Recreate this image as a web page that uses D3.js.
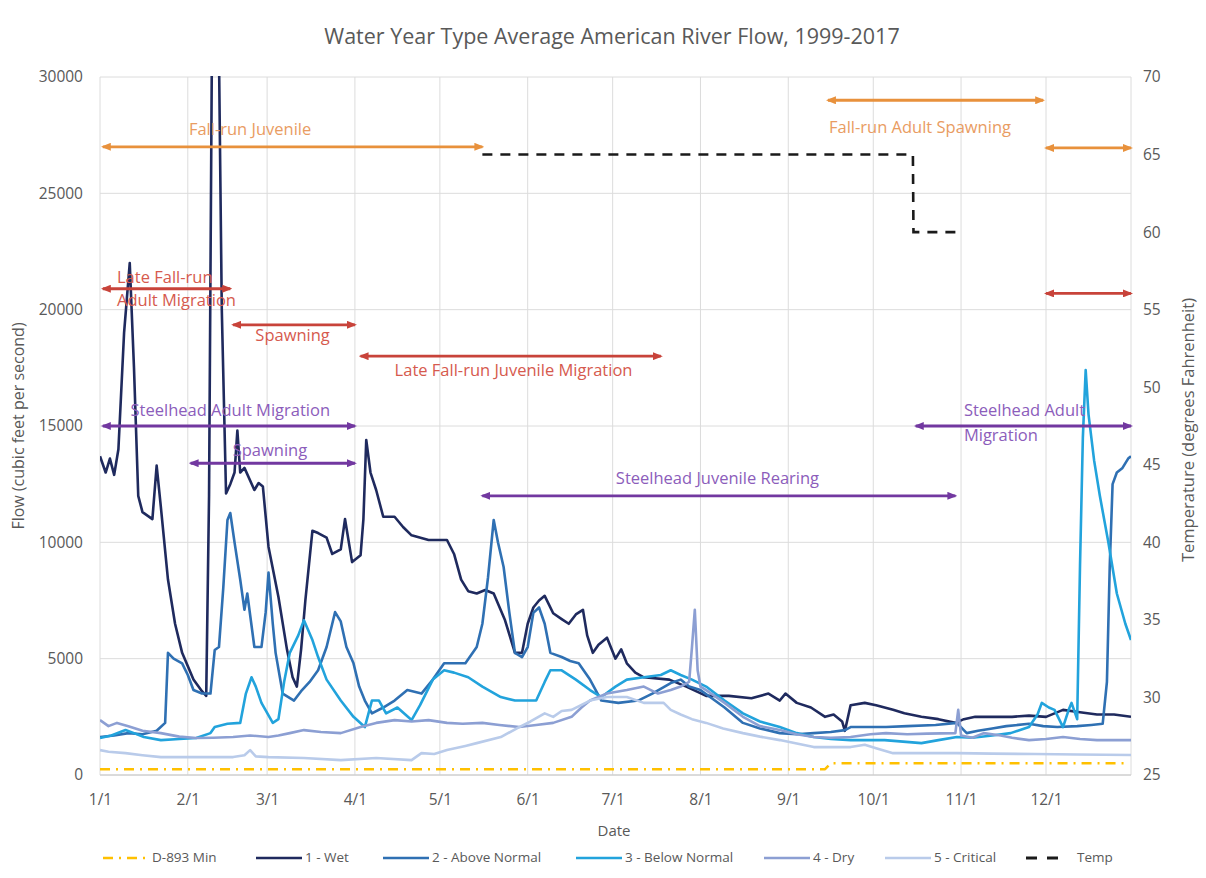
<!DOCTYPE html>
<html>
<head>
<meta charset="utf-8">
<script src="https://cdn.jsdelivr.net/npm/d3@7"></script>
<style>
    body { margin: 0; background: #fff; }
    svg text { font-family: "Open Sans", "Noto Sans", sans-serif; }
</style>
</head>
<body>
<div id="chart"></div>
<script>

// day of year (0 = Jan 1) paired with average flow, cfs
const minFlow = [[0, 250], [256, 250], [258, 500], [362, 500]];

const wetFlow = [[0,13700],[2,13000],[3.5,13600],[5,12900],[6.5,14000],[8.5,19000],[10.5,22000],[12,17500],[13.5,12000],[15,11300],[18.5,11000],[20,13300],[21.5,11500],[24,8400],[26.5,6500],[29,5250],[33,4100],[36,3600],[37.5,3400],[38.5,12000],[39.5,31000],[42,31000],[43,20000],[44.5,12100],[46,12500],[47.5,13000],[48.5,14800],[49.5,13000],[51,13200],[54.5,12250],[56,12550],[57.5,12400],[59.5,9800],[63,7650],[66,5400],[68,4200],[69.5,3800],[71,5400],[72.5,7500],[75,10500],[77,10400],[80,10200],[82,9500],[85,9700],[86.5,11000],[89,9150],[92,9450],[93,11000],[94,14400],[95.5,13000],[97.5,12250],[100,11100],[104,11100],[107,10660],[110,10300],[116,10100],[122.5,10100],[125,9500],[127.5,8400],[130,7900],[133,7800],[136,7950],[139,7800],[143,6650],[146.5,5250],[149,5250],[151,6500],[153,7200],[155,7500],[157,7700],[160,6950],[163,6700],[165.5,6500],[168,6900],[170.5,7100],[172,6000],[174,5250],[176,5600],[179,5900],[182,5000],[184,5400],[186,4800],[189,4400],[192,4200],[201,4100],[207,3800],[214,3400],[222,3400],[230,3300],[236,3500],[240,3200],[242,3500],[246,3100],[251,2900],[256,2500],[259,2600],[262,2300],[263,1900],[265,3000],[270,3100],[274,3000],[280,2800],[284,2650],[290,2500],[296,2400],[302,2240],[305,2400],[309,2500],[315,2500],[322,2500],[328,2550],[334,2500],[340,2800],[346,2700],[352,2600],[358,2600],[364,2500]];

const aboveNormalFlow = [[0,1630],[5,1700],[10,1800],[15,1750],[20,1900],[23,2240],[24,5250],[26,5000],[29,4800],[31,4300],[33,3650],[36,3500],[39,3500],[40.5,5370],[42,5500],[43.5,8000],[45,10960],[46,11260],[47.5,10000],[49.5,8400],[51,7100],[52,7800],[54.5,5500],[57,5500],[58.5,7000],[59.5,8700],[61,6500],[62,5250],[64.5,3500],[68.5,3200],[71,3600],[74,4000],[77,4500],[80,5500],[82,6500],[83,7000],[85,6600],[87,5500],[89.5,4800],[91.5,3800],[93.5,3200],[96,2650],[100,2900],[104,3200],[108.5,3650],[113.5,3500],[117.5,4100],[121.5,4800],[129,4800],[133,5500],[135,6500],[137,8500],[139,10960],[140.5,10000],[142.5,8940],[144.5,7000],[146.5,5250],[149,5070],[151,5500],[153,6970],[155,7200],[157,6500],[159,5250],[163,5070],[166,4900],[169,4800],[173,4100],[177,3200],[183,3100],[190,3200],[195,3500],[201.5,3950],[205,4100],[208,3800],[212,3650],[216,3300],[220.5,2900],[227,2240],[233,2000],[240,1800],[246,1750],[252,1800],[258,1850],[263,1930],[265,2060],[272,2060],[277.5,2060],[285,2100],[295,2150],[302.5,2240],[306,1800],[310,1900],[315,2000],[320,2100],[328,2200],[333,2100],[338,2060],[345,2100],[350,2150],[354,2200],[355.5,4000],[356.5,9000],[357.5,12500],[359,13000],[361,13200],[363,13600],[364,13700]];

const belowNormalFlow = [[0,1590],[4,1700],[9,1935],[12,1800],[15.5,1630],[21.5,1500],[28,1550],[34,1590],[39,1800],[40.5,2060],[45,2200],[49.5,2240],[51.5,3500],[53.5,4200],[55,3800],[57,3100],[61,2240],[63,2400],[65,4000],[67,5250],[70,6000],[72,6650],[75,5800],[77,5070],[80,4100],[85,3200],[89.5,2500],[93.5,2060],[96,3200],[98.5,3200],[101,2650],[105,2900],[110,2360],[113,3000],[117.5,4100],[121.5,4500],[125,4400],[130,4200],[135,3800],[141.5,3350],[146.5,3200],[154,3200],[157,4000],[159,4500],[163,4500],[168,4100],[173,3650],[177,3350],[182,3800],[186,4100],[192,4200],[198,4300],[201.5,4500],[205,4300],[209,4100],[214,3800],[220.5,3200],[227,2650],[233,2300],[240,2060],[246,1800],[252,1630],[258,1550],[265,1500],[277,1500],[290,1370],[296,1500],[302.5,1630],[308,1600],[315,1700],[321.5,1800],[328,2060],[331,2600],[332.5,3100],[335,2900],[337,2800],[340,2060],[342,2800],[343,3100],[345,2400],[346,9000],[347,14500],[348,17400],[349,15500],[351,13500],[353,12000],[356,10000],[359,7800],[362,6500],[364,5800]];

const dryFlow = [[0,2360],[3,2100],[6,2240],[10,2100],[15,1900],[21.5,1800],[28,1650],[34,1590],[40,1600],[47,1630],[53,1700],[59.5,1630],[63,1700],[67,1800],[72,1930],[78,1850],[85,1800],[92,2060],[97.5,2240],[104,2360],[110,2300],[116,2360],[122.5,2240],[128,2200],[135,2240],[141,2150],[148,2060],[154,2150],[160,2240],[166.5,2500],[170,2900],[173,3200],[179,3500],[186,3650],[192,3800],[197,3500],[201.5,3650],[205,3800],[208,4000],[209,5500],[210,7100],[211,4500],[212,3800],[214,3650],[220.5,3100],[227,2500],[233,2100],[240,1930],[246,1750],[252,1630],[258,1600],[265,1630],[272,1750],[277.5,1800],[285,1750],[292,1780],[302,1800],[303,2800],[304,1700],[308,1600],[312,1800],[318,1700],[322,1600],[328,1500],[334,1550],[340,1630],[346,1550],[352,1500],[358,1500],[364,1500]];

const criticalFlow = [[0,1070],[3,1000],[9,940],[15,850],[21.5,770],[34,770],[47,770],[51,850],[53,1070],[55,800],[59.5,770],[72,730],[85,640],[97.5,730],[110,640],[113.5,940],[118,900],[122.5,1070],[129,1250],[133,1370],[141.5,1630],[148,2060],[152,2300],[157,2650],[160,2500],[163,2750],[166.5,2800],[173,3200],[179,3350],[186,3350],[192,3100],[199,3100],[201.5,2800],[205,2600],[209,2400],[214,2240],[220,2000],[227,1800],[233,1650],[240,1500],[246,1350],[252,1200],[258,1200],[265,1200],[270,1300],[274,1150],[280,940],[290,940],[302.5,940],[315,920],[330,900],[345,880],[364,860]];

// temperature target, degrees F
const tempTarget = [[135, 65], [287, 65], [287.2, 60], [303, 60]];

const flowTicks = [0, 5000, 10000, 15000, 20000, 25000, 30000];
const tempTicks = [25, 30, 35, 40, 45, 50, 55, 60, 65, 70];
const dateTickLabels = ['1/1', '2/1', '3/1', '4/1', '5/1', '6/1', '7/1', '8/1', '9/1', '10/1', '11/1', '12/1'];

const seriesNames = ['D-893 Min', '1 - Wet', '2 - Above Normal', '3 - Below Normal', '4 - Dry', '5 - Critical', 'Temp'];

// life stage periods: run, first day, last day, flow level
const phaseArrows = [
    ['fall', 1, 135, 27000],
    ['fall', 257, 333, 29000],
    ['fall', 334, 364, 26950],
    ['late', 1, 46, 20900],
    ['late', 47, 90, 19350],
    ['late', 92, 198, 18000],
    ['late', 334, 364, 20700],
    ['steel', 1, 90, 15000],
    ['steel', 32, 90, 13400],
    ['steel', 135, 302, 12000],
    ['steel', 288, 364, 15000]
];

// run, text, day, flow, anchor
const phaseLabels = [
    ['fall', 'Fall-run Juvenile', 53, 27700, 'middle'],
    ['fall', 'Fall-run Adult Spawning', 289.5, 27800, 'middle'],
    ['late', 'Late Fall-run', 6, 21350, 'start'],
    ['late', 'Adult Migration', 6, 20350, 'start'],
    ['late', 'Spawning', 68, 18830, 'middle'],
    ['late', 'Late Fall-run Juvenile Migration', 146, 17320, 'middle'],
    ['steel', 'Steelhead Adult Migration', 46, 15600, 'middle'],
    ['steel', 'Spawning', 60, 13880, 'middle'],
    ['steel', 'Steelhead Juvenile Rearing', 218, 12680, 'middle'],
    ['steel', 'Steelhead Adult', 305, 15600, 'start'],
    ['steel', 'Migration', 305, 14530, 'start']
];


class RiverFlowChart {

    constructor(parentElement) {
        this.parentElement = parentElement;
        this.initVis();
    }

    initVis() {
        let vis = this;

        vis.width = 1206;
        vis.height = 878;
        vis.plot = {left: 100, right: 1131, top: 77, bottom: 775};

        vis.svg = d3.select('#' + vis.parentElement).append('svg')
            .attr('width', vis.width)
            .attr('height', vis.height);

        vis.yearStart = Date.UTC(2017, 0, 1);

        vis.x = d3.scaleUtc()
            .domain([vis.dayToDate(0), vis.dayToDate(364)])
            .range([vis.plot.left, vis.plot.right]);

        vis.yFlow = d3.scaleLinear()
            .domain([0, 30000])
            .range([vis.plot.bottom, vis.plot.top]);

        vis.yTemp = d3.scaleLinear()
            .domain([25, 70])
            .range([vis.plot.bottom, vis.plot.top]);

        vis.colors = {
            'D-893 Min': '#ffc000',
            '1 - Wet': '#1f2a5e',
            '2 - Above Normal': '#2f70b3',
            '3 - Below Normal': '#22a3dc',
            '4 - Dry': '#8c9fd3',
            '5 - Critical': '#b9cbea',
            'Temp': '#1a1a1a'
        };
        vis.runColors = {fall: '#e8913c', late: '#c8433a', steel: '#7238a0'};
        vis.runTextColors = {fall: '#e99c62', late: '#d65a4e', steel: '#8c5dbb'};

        vis.svg.append('defs').append('clipPath')
            .attr('id', 'plot-clip')
            .append('rect')
            .attr('x', vis.plot.left)
            .attr('y', vis.plot.top - 1)
            .attr('width', vis.plot.right - vis.plot.left)
            .attr('height', vis.plot.bottom - vis.plot.top + 1);

        // arrow heads, one per colour
        Object.keys(vis.runColors).forEach(run => {
            vis.svg.select('defs').append('marker')
                .attr('id', 'head-' + run)
                .attr('viewBox', '0 0 10 8')
                .attr('refX', 8)
                .attr('refY', 4)
                .attr('markerWidth', 10)
                .attr('markerHeight', 8)
                .attr('markerUnits', 'userSpaceOnUse')
                .attr('orient', 'auto-start-reverse')
                .append('path')
                .attr('d', 'M0,0 L10,4 L0,8 Z')
                .attr('fill', vis.runColors[run]);
        });

        vis.svg.append('text')
            .attr('x', 612)
            .attr('y', 38)
            .attr('text-anchor', 'middle')
            .attr('dominant-baseline', 'middle')
            .attr('font-size', 21.5)
            .attr('fill', '#595959')
            .text('Water Year Type Average American River Flow, 1999-2017');

        vis.svg.append('text')
            .attr('transform', 'translate(20,426) rotate(-90)')
            .attr('text-anchor', 'middle')
            .attr('dominant-baseline', 'middle')
            .attr('font-size', 16)
            .attr('fill', '#595959')
            .text('Flow (cubic feet per second)');

        vis.svg.append('text')
            .attr('transform', 'translate(1190,430) rotate(-90)')
            .attr('text-anchor', 'middle')
            .attr('dominant-baseline', 'middle')
            .attr('font-size', 16.5)
            .attr('fill', '#595959')
            .text('Temperature (degrees Fahrenheit)');

        vis.svg.append('text')
            .attr('x', 614)
            .attr('y', 832)
            .attr('text-anchor', 'middle')
            .attr('dominant-baseline', 'middle')
            .attr('font-size', 15)
            .attr('fill', '#595959')
            .text('Date');

        vis.wrangleData();
    }

    dayToDate(day) {
        return new Date(this.yearStart + day * 864e5);
    }

    wrangleData() {
        let vis = this;

        let toPoints = arr => arr.map(d => ({date: vis.dayToDate(d[0]), value: d[1]}));

        vis.flowSeries = [
            {name: 'D-893 Min', values: toPoints(minFlow)},
            {name: '1 - Wet', values: toPoints(wetFlow)},
            {name: '2 - Above Normal', values: toPoints(aboveNormalFlow)},
            {name: '3 - Below Normal', values: toPoints(belowNormalFlow)},
            {name: '4 - Dry', values: toPoints(dryFlow)},
            {name: '5 - Critical', values: toPoints(criticalFlow)}
        ];
        vis.tempSeries = toPoints(tempTarget);

        vis.monthDates = d3.utcMonth.range(vis.dayToDate(0), vis.dayToDate(365));

        vis.updateVis();
    }

    updateVis() {
        let vis = this;

        // gridlines
        let grid = vis.svg.append('g').attr('class', 'grid');
        grid.selectAll('.h-grid')
            .data(flowTicks)
            .join('line')
            .attr('x1', vis.plot.left)
            .attr('x2', vis.plot.right)
            .attr('y1', d => vis.yFlow(d))
            .attr('y2', d => vis.yFlow(d))
            .attr('stroke', '#dcdcdc')
            .attr('stroke-width', 1);
        grid.selectAll('.v-grid')
            .data(vis.monthDates.concat([vis.dayToDate(364)]))
            .join('line')
            .attr('x1', d => vis.x(d))
            .attr('x2', d => vis.x(d))
            .attr('y1', vis.plot.top)
            .attr('y2', vis.plot.bottom)
            .attr('stroke', '#dcdcdc')
            .attr('stroke-width', 1);

        // axes
        let yAxis = d3.axisLeft(vis.yFlow).tickValues(flowTicks).tickSize(0).tickPadding(17)
            .tickFormat(d3.format('d'));
        let yAxisRight = d3.axisRight(vis.yTemp).tickValues(tempTicks).tickSize(0).tickPadding(12);
        let xAxis = d3.axisBottom(vis.x).tickValues(vis.monthDates).tickSize(0).tickPadding(19)
            .tickFormat((d, i) => dateTickLabels[i]);

        let styleAxis = g => {
            g.select('.domain').remove();
            g.selectAll('text')
                .attr('font-size', 15.5)
                .attr('fill', '#595959')
                .attr('font-family', '"Open Sans", sans-serif');
        };

        vis.svg.append('g')
            .attr('transform', `translate(${vis.plot.left},0)`)
            .call(yAxis).call(styleAxis);
        vis.svg.append('g')
            .attr('transform', `translate(${vis.plot.right},0)`)
            .call(yAxisRight).call(styleAxis);
        vis.svg.append('g')
            .attr('transform', `translate(0,${vis.plot.bottom})`)
            .call(xAxis).call(styleAxis);

        vis.svg.append('line')
            .attr('x1', vis.plot.left)
            .attr('x2', vis.plot.right)
            .attr('y1', vis.plot.bottom)
            .attr('y2', vis.plot.bottom)
            .attr('stroke', '#c8c8c8');

        // flow lines
        let flowLine = d3.line()
            .x(d => vis.x(d.date))
            .y(d => vis.yFlow(d.value));

        let lines = vis.svg.append('g').attr('clip-path', 'url(#plot-clip)');

        lines.selectAll('.flow-line')
            .data(vis.flowSeries)
            .join('path')
            .attr('class', 'flow-line')
            .attr('fill', 'none')
            .attr('stroke', d => vis.colors[d.name])
            .attr('stroke-width', d => d.name === 'D-893 Min' ? 2.5 : 2.6)
            .attr('stroke-linejoin', 'round')
            .attr('stroke-dasharray', d => d.name === 'D-893 Min' ? '10,6,2,6' : null)
            .attr('d', d => flowLine(d.values));

        let tempLine = d3.line()
            .x(d => vis.x(d.date))
            .y(d => vis.yTemp(d.value));

        lines.append('path')
            .attr('fill', 'none')
            .attr('stroke', vis.colors['Temp'])
            .attr('stroke-width', 2.6)
            .attr('stroke-dasharray', '10,8')
            .attr('d', tempLine(vis.tempSeries));

        // life stage arrows
        vis.svg.append('g').selectAll('line')
            .data(phaseArrows)
            .join('line')
            .attr('x1', d => vis.x(vis.dayToDate(d[1])))
            .attr('x2', d => vis.x(vis.dayToDate(d[2])))
            .attr('y1', d => vis.yFlow(d[3]))
            .attr('y2', d => vis.yFlow(d[3]))
            .attr('stroke', d => vis.runColors[d[0]])
            .attr('stroke-width', 2.8)
            .attr('marker-start', d => `url(#head-${d[0]})`)
            .attr('marker-end', d => `url(#head-${d[0]})`);

        vis.svg.append('g').selectAll('text')
            .data(phaseLabels)
            .join('text')
            .attr('x', d => vis.x(vis.dayToDate(d[2])))
            .attr('y', d => vis.yFlow(d[3]))
            .attr('text-anchor', d => d[4])
            .attr('dominant-baseline', 'middle')
            .attr('font-size', 16.5)
            .attr('fill', d => vis.runTextColors[d[0]])
            .text(d => d[1]);

        // legend
        let legendX = [103, 256, 383, 576, 764, 885, 1026];
        let legend = vis.svg.append('g')
            .selectAll('g')
            .data(seriesNames)
            .join('g')
            .attr('transform', (d, i) => `translate(${legendX[i]},858)`);

        legend.append('line')
            .attr('x1', 0)
            .attr('x2', d => d === 'Temp' ? 32 : 46)
            .attr('stroke', d => vis.colors[d])
            .attr('stroke-width', d => d === 'Temp' ? 3 : 2.6)
            .attr('stroke-dasharray', d => d === 'D-893 Min' ? '10,6,2,6' : (d === 'Temp' ? '11,10' : null));

        legend.append('text')
            .attr('x', d => d === 'Temp' ? 51 : 49)
            .attr('dominant-baseline', 'middle')
            .attr('font-size', 13.5)
            .attr('fill', '#595959')
            .text(d => d);
    }
}

new RiverFlowChart('chart');

</script>
</body>
</html>
